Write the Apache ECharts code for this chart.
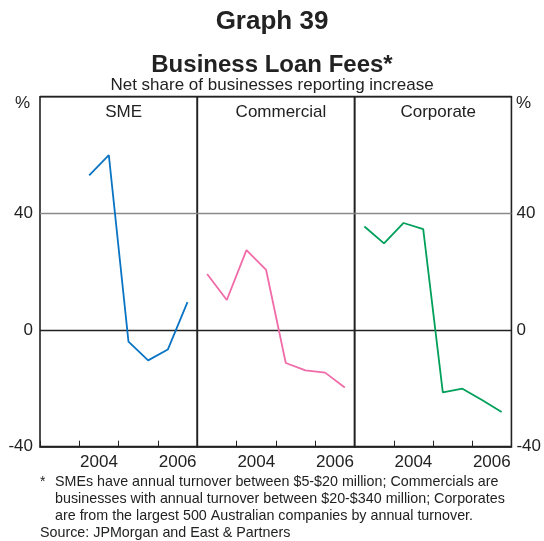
<!DOCTYPE html>
<html>
<head>
<meta charset="utf-8">
<script src="https://cdn.jsdelivr.net/npm/echarts@6/dist/echarts.min.js"></script>
<style>
  html, body { margin: 0; padding: 0; background: #fff; }
  #chart { width: 544px; height: 541px; }
</style>
</head>
<body>
<div id="chart"></div>
<script>
// Business Loan Fees — net share of businesses reporting increase, three panels.
const periods = ['2003 H1', '2003 H2', '2004 H1', '2004 H2', '2005 H1', '2005 H2', '2006 H1', '2006 H2'];
const years = ['2003', '2004', '2005', '2006'];
const yearLabels = ['', '2004', '', '2006'];
const panels = ['SME', 'Commercial', 'Corporate'];

const sme        = [null, null, 53, 60, -4, -10.4, -6.7, 9.6];
const commercial = [19.2, 10.3, 27.4, 20.6, -11.3, -13.8, -14.6, -19.7];
const corporate  = [35.5, 29.7, 36.7, 34.6, -21.4, -20.1, -24.0, -28.1];

const COLORS = ['#0a74c4', '#f06ba8', '#00a05a'];
const FONT = 'Liberation Sans, Arial, sans-serif';
const INK = '#222';

const chart = echarts.init(document.getElementById('chart'));

const LEFT = 40, TOP = 96.7, W = 157.3, H = 350;
const seriesData = [sme, commercial, corporate];

const grids = [], xAxes = [], yAxes = [], series = [], titles = [];
panels.forEach((name, i) => {
  grids.push({
    left: LEFT + i * W, top: TOP, width: W, height: H,
    show: true, borderColor: INK, borderWidth: 1.6, backgroundColor: 'transparent',
  });
  // data axis (half-years)
  xAxes.push({
    type: 'category', gridIndex: i, data: periods, boundaryGap: true,
    position: 'top', show: false,
  });
  // label axis (years)
  xAxes.push({
    type: 'category', gridIndex: i, data: years, boundaryGap: true, position: 'bottom',
    axisLine: { show: true, lineStyle: { color: INK, width: 1.6 } },
    axisTick: { show: true, inside: true, length: 6, interval: 0, lineStyle: { color: INK } },
    axisLabel: {
      interval: 0, margin: 7, color: INK, fontSize: 17, fontFamily: FONT,
      formatter: (v, idx) => yearLabels[idx],
    },
    splitLine: { show: false },
  });
  yAxes.push({
    type: 'value', gridIndex: i, min: -40, max: 80, interval: 40,
    position: i === 2 ? 'right' : 'left',
    axisLine: { show: false }, axisTick: { show: false },
    axisLabel: {
      show: i !== 1, color: INK, fontSize: 17, fontFamily: FONT, margin: i === 2 ? 5 : 7,
      formatter: v => (v === 80 ? '' : String(v)),
    },
    splitLine: { show: true, lineStyle: { color: [INK, INK, '#8a8a8a', INK], width: 1.4 } },
  });
  series.push({
    type: 'line', xAxisIndex: i * 2, yAxisIndex: i,
    data: seriesData[i], showSymbol: false, connectNulls: false,
    lineStyle: { color: COLORS[i], width: 1.8 },
    itemStyle: { color: COLORS[i] },
    animation: false,
  });
  titles.push({
    text: name, left: LEFT + i * W + W / 2, top: 99, textAlign: 'center',
    textStyle: { fontSize: 17, fontWeight: 'normal', color: INK, fontFamily: FONT },
  });
});

chart.setOption({
  animation: false,
  title: [
    { text: 'Graph 39', left: 'center', top: 4,
      textStyle: { fontSize: 26, fontWeight: 'bold', color: INK, fontFamily: FONT } },
    { text: 'Business Loan Fees*', left: 'center', top: 48,
      textStyle: { fontSize: 24, fontWeight: 'bold', color: INK, fontFamily: FONT } },
    { text: 'Net share of businesses reporting increase', left: 'center', top: 72,
      textStyle: { fontSize: 17, fontWeight: 'normal', color: INK, fontFamily: FONT } },
    ...titles,
  ],
  grid: grids,
  xAxis: xAxes,
  yAxis: yAxes,
  series,
  graphic: [
    { type: 'text', left: 15, top: 95, style: { text: '%', fontSize: 17, fill: INK, fontFamily: FONT } },
    { type: 'text', left: 516, top: 95, style: { text: '%', fontSize: 17, fill: INK, fontFamily: FONT } },
    { type: 'text', left: 40, top: 475, style: { text: '*', fontSize: 14, fill: INK, fontFamily: FONT } },
    { type: 'text', left: 55, top: 473, style: {
      text: 'SMEs have annual turnover between $5-$20 million; Commercials are\nbusinesses with annual turnover between $20-$340 million; Corporates\nare from the largest 500 Australian companies by annual turnover.',
      fontSize: 14.3, lineHeight: 17.3, fill: INK, fontFamily: FONT } },
    { type: 'text', left: 40, top: 526, style: {
      text: 'Source: JPMorgan and East & Partners', fontSize: 14.3, fill: INK, fontFamily: FONT } },
  ],
});
</script>
</body>
</html>
